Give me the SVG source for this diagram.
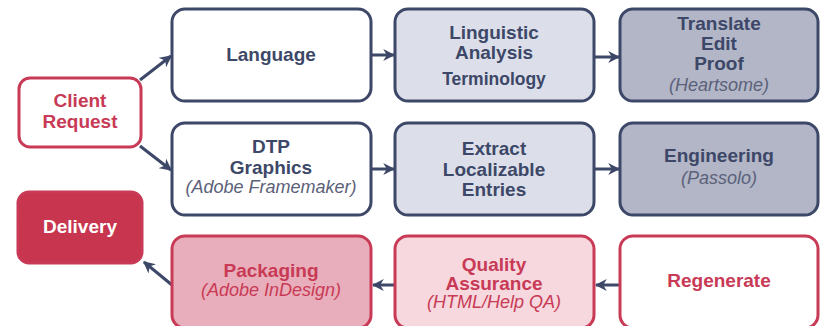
<svg xmlns="http://www.w3.org/2000/svg" width="821" height="326" viewBox="0 0 821 326">
  <defs>
    <marker id="arrow" viewBox="0 0 10 10" refX="9" refY="5" markerWidth="4" markerHeight="4" orient="auto-start-reverse" markerUnits="strokeWidth">
      <path d="M0,0 L10,5 L0,10 L3,5 z" fill="#3d4768"/>
    </marker>
    <style>
      .box { stroke-width: 3; }
      .navy { stroke: #3d4768; }
      .red { stroke: #c83a55; }
      .white { fill: #ffffff; }
      .lite { fill: #dcdfe9; }
      .mid { fill: #b2b6c7; }
      .pink { fill: #e8aebb; }
      .blush { fill: #f6d8de; }
      .crimson { fill: #c8354f; }
      text { font-family: "Liberation Sans", Arial, sans-serif; text-anchor: middle; }
      .b { font-weight: bold; font-size: 19px; }
      .i { font-style: italic; font-size: 18px; }
      .tn { fill: #3d4768; }
      .tg { fill: #5b6179; }
      .tr { fill: #c83a55; }
      .tw { fill: #ffffff; }
      .conn { stroke: #3d4768; stroke-width: 3; fill: none; marker-end: url(#arrow); }
    </style>
  </defs>

  <rect width="821" height="326" fill="#ffffff"/>

  <g id="connectors">
    <line class="conn" x1="140" y1="80" x2="171" y2="56"/>
    <line class="conn" x1="140" y1="146" x2="171" y2="170"/>
    <line class="conn" x1="371" y1="55" x2="394" y2="55"/>
    <line class="conn" x1="594" y1="57" x2="619" y2="57"/>
    <line class="conn" x1="371" y1="169" x2="394" y2="169"/>
    <line class="conn" x1="594" y1="169" x2="619" y2="169"/>
    <line class="conn" x1="620" y1="285" x2="596" y2="285"/>
    <line class="conn" x1="395" y1="285" x2="373" y2="285"/>
    <line class="conn" x1="172" y1="285" x2="144" y2="262"/>
  </g>

  <g id="client-request">
    <rect class="box red white" x="19" y="78" width="122" height="69" rx="11"/>
    <text class="b tr" x="80" y="107">Client</text>
    <text class="b tr" x="80" y="128">Request</text>
  </g>

  <g id="delivery">
    <rect class="box red crimson" x="18" y="192" width="124" height="71" rx="11"/>
    <text class="b tw" x="80" y="233">Delivery</text>
  </g>

  <g id="language">
    <rect class="box navy white" x="172" y="9" width="199" height="92" rx="13"/>
    <text class="b tn" x="271" y="61">Language</text>
  </g>

  <g id="linguistic-analysis">
    <rect class="box navy lite" x="395" y="9" width="199" height="92" rx="13"/>
    <text class="b tn" x="494" y="39">Linguistic</text>
    <text class="b tn" x="494" y="59">Analysis</text>
    <text class="b tn" x="494" y="85" style="font-size:17.5px">Terminology</text>
  </g>

  <g id="translate-edit-proof">
    <rect class="box navy mid" x="620" y="9" width="198" height="92" rx="13"/>
    <text class="b tn" x="719" y="30">Translate</text>
    <text class="b tn" x="719" y="50">Edit</text>
    <text class="b tn" x="719" y="70">Proof</text>
    <text class="i tg" x="719" y="91">(Heartsome)</text>
  </g>

  <g id="dtp-graphics">
    <rect class="box navy white" x="172" y="123" width="199" height="92" rx="13"/>
    <text class="b tn" x="271" y="153">DTP</text>
    <text class="b tn" x="271" y="174">Graphics</text>
    <text class="i tg" x="271" y="193">(Adobe Framemaker)</text>
  </g>

  <g id="extract-entries">
    <rect class="box navy lite" x="395" y="123" width="199" height="92" rx="13"/>
    <text class="b tn" x="494" y="155">Extract</text>
    <text class="b tn" x="494" y="176">Localizable</text>
    <text class="b tn" x="494" y="196">Entries</text>
  </g>

  <g id="engineering">
    <rect class="box navy mid" x="620" y="123" width="198" height="92" rx="13"/>
    <text class="b tn" x="719" y="162">Engineering</text>
    <text class="i tg" x="719" y="184">(Passolo)</text>
  </g>

  <g id="packaging">
    <rect class="box red pink" x="172" y="236" width="199" height="92" rx="13"/>
    <text class="b tr" x="271" y="277">Packaging</text>
    <text class="i tr" x="271" y="296">(Adobe InDesign)</text>
  </g>

  <g id="quality-assurance">
    <rect class="box red blush" x="395" y="236" width="199" height="92" rx="13"/>
    <text class="b tr" x="494" y="271">Quality</text>
    <text class="b tr" x="494" y="290">Assurance</text>
    <text class="i tr" x="494" y="308">(HTML/Help QA)</text>
  </g>

  <g id="regenerate">
    <rect class="box red white" x="620" y="236" width="198" height="92" rx="13"/>
    <text class="b tr" x="719" y="287">Regenerate</text>
  </g>
</svg>
